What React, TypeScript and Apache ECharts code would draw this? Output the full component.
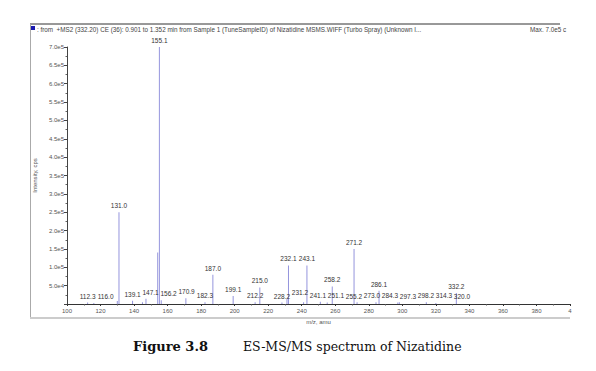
import React, { useEffect, useRef } from "react";
import * as echarts from "echarts";

// m/z values and intensities (cps) of the peaks
const mzValues = [
  112.3, 116.0, 130.0, 131.0, 139.1, 145.0, 147.1, 154.1, 155.1, 156.2, 170.9,
  182.3, 187.0, 199.1, 212.2, 215.0, 228.2, 231.2, 232.1, 241.1, 243.1, 251.1,
  255.2, 258.2, 271.2, 273.0, 284.3, 286.1, 297.3, 298.2, 314.3, 320.0, 332.2,
];
const intensities = [
  4000, 3000, 8000, 250000, 9000, 5000, 14000, 140000, 700000, 10000, 16000,
  5000, 80000, 22000, 5000, 45000, 4000, 14000, 105000, 5000, 105000, 6000,
  4000, 48000, 150000, 5000, 5000, 36000, 4000, 5000, 5000, 3000, 30000,
];
// peaks that carry a label
const labeledPeaks = [
  112.3, 116.0, 131.0, 139.1, 147.1, 155.1, 156.2, 170.9, 182.3, 187.0, 199.1,
  212.2, 215.0, 228.2, 231.2, 232.1, 241.1, 243.1, 251.1, 255.2, 258.2, 271.2,
  273.0, 284.3, 286.1, 297.3, 298.2, 314.3, 320.0, 332.2,
];
const xTicks = { min: 100, max: 400, interval: 20 };
const yTicks = { min: 0, max: 700000, interval: 50000 };

const headerText =
  ": from  +MS2 (332.20) CE (36): 0.901 to 1.352 min from Sample 1 (TuneSampleID) of Nizatidine MSMS.WIFF (Turbo Spray) (Unknown I...";

const LABEL_FONT = 6.5;
const CHAR_W = 3.4;

export default function App() {
  const ref = useRef<HTMLDivElement>(null);
  useEffect(() => {
    if (!ref.current) return;
    const chart = echarts.init(ref.current, null, { renderer: "svg" });
    const buildData = (offsets: number[]) =>
      mzValues.map((m, i) => ({
        value: [m, intensities[i]],
        label: { show: labeledPeaks.includes(m), offset: [offsets[i] || 0, 0] },
      }));
    chart.setOption({
      animation: false,
      backgroundColor: "#fff",
      textStyle: { fontFamily: "Liberation Sans" },
      grid: { left: 67, right: 26, top: 47, bottom: 67, containLabel: false },
      xAxis: {
        type: "value",
        min: xTicks.min,
        max: xTicks.max,
        interval: xTicks.interval,
        name: "m/z, amu",
        nameLocation: "middle",
        nameGap: 12,
        nameTextStyle: { fontSize: 6, color: "#555" },
        axisLine: { lineStyle: { color: "#333", width: 1 } },
        axisTick: { show: true, length: 2, lineStyle: { color: "#333" } },
        minorTick: { show: true, splitNumber: 2, length: 1.5, lineStyle: { color: "#555" } },
        axisLabel: {
          fontSize: 6,
          color: "#555",
          margin: 4,
          formatter: (v: number) => (v === 400 ? "4" : String(v)),
        },
        splitLine: { show: false },
      },
      yAxis: {
        type: "value",
        min: yTicks.min,
        max: yTicks.max,
        interval: yTicks.interval,
        name: "Intensity, cps",
        nameLocation: "middle",
        nameGap: 25,
        nameTextStyle: { fontSize: 6, color: "#555" },
        axisLine: { show: true, lineStyle: { color: "#444", width: 1 } },
        axisTick: { show: true, length: 3, lineStyle: { color: "#444" } },
        minorTick: { show: true, splitNumber: 2, length: 1.5, lineStyle: { color: "#666" } },
        axisLabel: {
          fontSize: 6,
          color: "#555",
          margin: 3,
          formatter: (v: number) => {
            if (v === 0) return "";
            if (v < 100000) return (v / 10000).toFixed(1) + "e4";
            return (v / 100000).toFixed(1) + "e5";
          },
        },
        splitLine: { show: false },
      },
      series: [
        {
          type: "bar",
          data: buildData([]),
          barWidth: 1,
          itemStyle: { color: "#9595dd" },
          label: {
            position: "top",
            distance: 3,
            fontSize: LABEL_FONT,
            color: "#333",
            formatter: (p: any) => p.value[0].toFixed(1),
          },
        },
      ],
      graphic: [
        { type: "line", shape: { x1: 30, y1: 24, x2: 560, y2: 24 }, style: { stroke: "#333", lineWidth: 1 } },
        { type: "line", shape: { x1: 30.5, y1: 24, x2: 30.5, y2: 318 }, style: { stroke: "#aaa", lineWidth: 1 } },
        { type: "line", shape: { x1: 30, y1: 318, x2: 570, y2: 318 }, style: { stroke: "#ccc", lineWidth: 2 } },
        { type: "rect", shape: { x: 31, y: 26, width: 4, height: 4 }, style: { fill: "#1a1ab0" } },
        {
          type: "text",
          x: 37,
          y: 29,
          style: { text: headerText, fontSize: 6.3, fill: "#444", fontFamily: "Liberation Sans", textVerticalAlign: "middle" },
        },
        {
          type: "text",
          x: 530,
          y: 29,
          style: { text: "Max. 7.0e5 c", fontSize: 6.3, fill: "#444", fontFamily: "Liberation Sans", textVerticalAlign: "middle" },
        },
        {
          type: "text",
          x: 133,
          y: 346,
          style: { text: "Figure 3.8", fontSize: 13, fontWeight: "bold", fill: "#111", fontFamily: "DejaVu Serif", textVerticalAlign: "middle" },
        },
        {
          type: "text",
          x: 243,
          y: 346,
          style: { text: "ES-MS/MS spectrum of Nizatidine", fontSize: 12.5, fill: "#111", fontFamily: "DejaVu Serif", textVerticalAlign: "middle" },
        },
      ],
    });

    // Greedy horizontal de-overlap of peak labels (layout only, values untouched)
    const boxes: { i: number; left: number; right: number; top: number; bottom: number }[] = [];
    const idx = mzValues
      .map((m, i) => i)
      .filter((i) => labeledPeaks.includes(mzValues[i]))
      .sort((a, b) => mzValues[a] - mzValues[b]);
    const offsets: number[] = mzValues.map(() => 0);
    idx.forEach((i) => {
      const p = chart.convertToPixel({ seriesIndex: 0 }, [mzValues[i], intensities[i]]) as number[];
      const w = mzValues[i].toFixed(1).length * CHAR_W;
      const bottom = p[1] - 3;
      const top = bottom - LABEL_FONT - 1;
      let left = p[0] - w / 2;
      boxes.forEach((b) => {
        const vOverlap = !(bottom < b.top || top > b.bottom);
        if (vOverlap && left < b.right + 1 && left + w > b.left) left = b.right + 1;
      });
      offsets[i] = left - (p[0] - w / 2);
      boxes.push({ i, left, right: left + w, top, bottom });
    });
    chart.setOption({ series: [{ data: buildData(offsets) }] });

    return () => chart.dispose();
  }, []);
  return <div ref={ref} style={{ position: "absolute", left: 0, top: 0, width: 596, height: 371 }} />;
}
